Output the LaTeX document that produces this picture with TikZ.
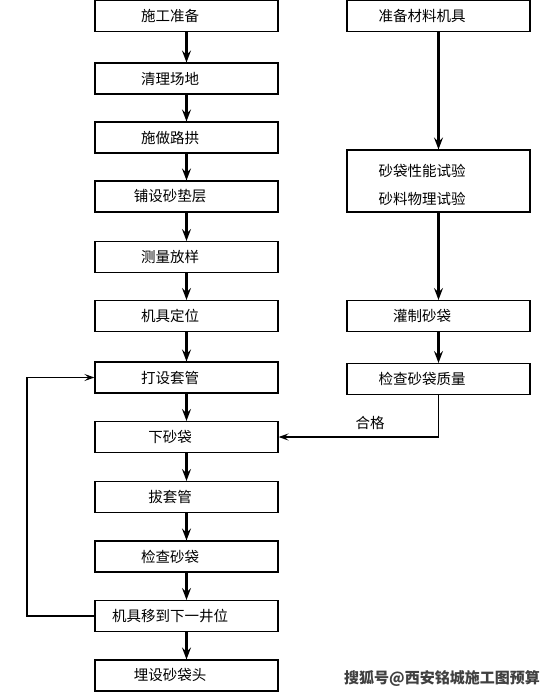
\documentclass[tikz,border=0pt]{standalone}
\usepackage{fontspec}
\newfontfamily\cjk{Noto Sans CJK SC}
\usetikzlibrary{arrows.meta}
\newcommand\shl[1]{#1\hspace*{33pt}}
\begin{document}
\begin{tikzpicture}[x=1pt,y=-1pt,
  box/.style={draw=black,line width=1.1pt,minimum width=183pt,minimum height=31pt,inner sep=0pt,font=\cjk\fontsize{14.5}{17}\selectfont},
  flow/.style={line width=2.2pt,-{Stealth[length=12pt,width=9pt,inset=4.5pt]}},
  loop/.style={line width=1.5pt,-{Stealth[length=10pt,width=7pt,inset=4pt]}},
  lbl/.style={font=\cjk\fontsize{14.5}{17}\selectfont,inner sep=0pt}]
\useasboundingbox[fill=white] (0,0) rectangle (556,694);
% left column
\node[box] (a1) at (186.5,16) {\shl{施工准备}};
\node[box] (a2) at (186.5,78.5) {\shl{清理场地}};
\node[box] (a3) at (186.5,137.5) {\shl{施做路拱}};
\node[box] (a4) at (186.5,196.5) {\shl{铺设砂垫层}};
\node[box] (a5) at (186.5,257) {\shl{测量放样}};
\node[box] (a6) at (186.5,316) {\shl{机具定位}};
\node[box] (a7) at (186.5,377.5) {\shl{打设套管}};
\node[box] (a8) at (186.5,437) {\shl{下砂袋}};
\node[box] (a9) at (186.5,497) {\shl{拔套管}};
\node[box] (a10) at (186.5,556.5) {\shl{检查砂袋}};
\node[box] (a11) at (186.5,616) {\shl{机具移到下一井位}};
\node[box] (a12) at (186.5,675.5) {\shl{埋设砂袋头}};
% right column
\node[box] (b1) at (438.5,16) {\shl{准备材料机具}};
\node[box,minimum height=62pt] (b2) at (438.5,181)
  {\begin{tabular}{@{}l@{\hspace{33pt}}}\rule{0pt}{24pt}砂袋性能试验\\[11pt]砂料物理试验\end{tabular}};
\node[box] (b3) at (438.5,316) {\shl{灌制砂袋}};
\node[box] (b4) at (438.5,379) {\shl{检查砂袋质量}};
% arrows left
\foreach \i/\j in {a1/a2,a2/a3,a3/a4,a4/a5,a5/a6,a6/a7,a7/a8,a8/a9,a9/a10,a10/a11,a11/a12}
  \draw[flow] (\i) -- (\j);
% arrows right
\draw[flow] (b1) -- (b2);
\draw[flow] (b2) -- (b3);
\draw[flow] (b3) -- (b4);
% loop back
\coordinate (lb) at (27,616);
\coordinate (lt) at (27,377.5);
\draw[loop] (a11.west) -- (lb) -- (lt) -- (a7.west);
% qualified
\draw[loop] (b4.south) |- (a8.east);
\node[lbl] (ok) at (370,423) {合格};
% watermark
\node[lbl,font=\cjk\bfseries\fontsize{15}{17}\selectfont,text=black!75] (wm) at (442,678) {搜狐号@西安铭城施工图预算};
\end{tikzpicture}
\end{document}
